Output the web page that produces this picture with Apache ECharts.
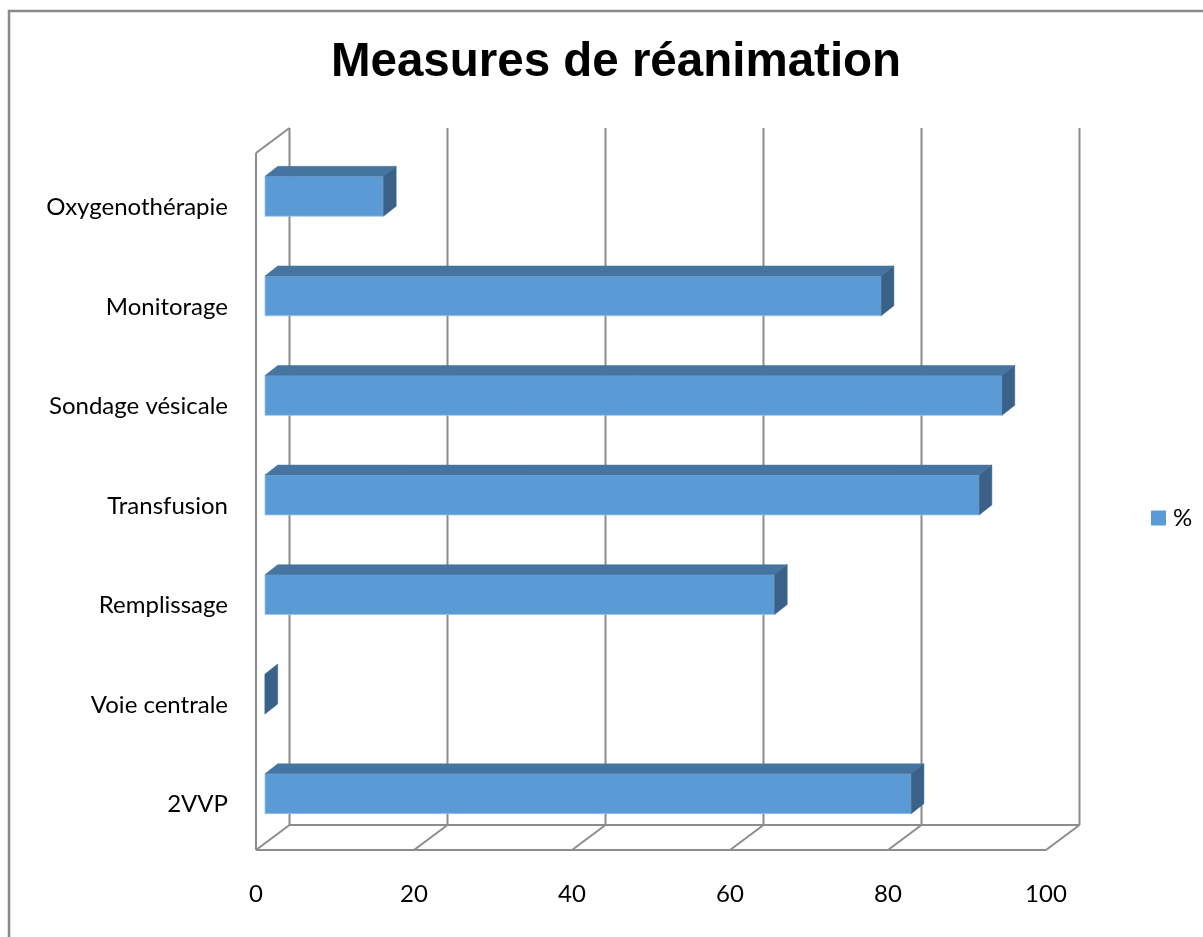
<!DOCTYPE html>
<html>
<head>
<meta charset="utf-8">
<script src="https://cdn.jsdelivr.net/npm/echarts@6/dist/echarts.min.js"></script>
<style>
html,body{margin:0;padding:0;background:#fff;}
#chart{width:1203px;height:937px;}
</style>
</head>
<body>
<div id="chart"></div>
<script>
// Data (bottom to top, as in the original series order)
const categories = ['2VVP', 'Voie centrale', 'Remplissage', 'Transfusion', 'Sondage vésicale', 'Monitorage', 'Oxygenothérapie'];
const values = [81.8, 0, 64.5, 90.4, 93.3, 78, 15];
const xTicks = [0, 20, 40, 60, 80, 100];
const seriesName = '%';
const titleText = 'Measures de réanimation';

// 3D look constants (pixels)
const DX = 33.5, DY = -25;      // depth of the back wall
const FX = 9, FY = -6.5;        // bar front face offset
const BX = 12.7, BY = -10;      // bar depth
const GRID_COLOR = '#8c8c8c';
const FRONT = '#5B9BD5', TOP = '#4674A0', SIDE = '#3A6289';
const FONT = 'Lato, "Open Sans", sans-serif';

const chart = echarts.init(document.getElementById('chart'), null, {renderer: 'canvas'});

function line(x1, y1, x2, y2) {
  return {type: 'line', shape: {x1, y1, x2, y2}, style: {stroke: GRID_COLOR, lineWidth: 2}, silent: true};
}

const option = {
  backgroundColor: '#ffffff',
  animation: false,
  title: {
    text: titleText,
    left: 611,
    top: 34,
    textAlign: 'center',
    textStyle: {fontFamily: '"Liberation Sans", Arial, sans-serif', fontWeight: 'bold', fontSize: 47.5, color: '#000'}
  },
  legend: {
    data: [seriesName],
    left: 1151,
    top: 506,
    padding: 0,
    icon: 'rect',
    itemWidth: 15,
    itemHeight: 15,
    itemGap: 10,
    textStyle: {fontFamily: FONT, fontSize: 24, color: '#000', padding: [0, 0, 0, 2]}
  },
  graphic: [{
    type: 'rect',
    shape: {x: 9, y: 11, width: 1220, height: 960},
    style: {fill: 'none', stroke: '#898989', lineWidth: 2.5},
    silent: true,
    z: -10
  }],
  grid: {left: 256, width: 790, top: 153, height: 697},
  xAxis: {
    type: 'value',
    min: 0,
    max: 100,
    interval: 20,
    axisLine: {show: false},
    axisTick: {show: false},
    splitLine: {show: false},
    axisLabel: {
      margin: 32,
      fontFamily: FONT,
      fontSize: 24,
      color: '#000',
      formatter: function (v) { return xTicks.indexOf(v) >= 0 ? String(v) : ''; }
    }
  },
  yAxis: {
    type: 'category',
    data: categories,
    axisLine: {show: false},
    axisTick: {show: false},
    splitLine: {show: false},
    axisLabel: {
      margin: 28,
      color: '#000',
      formatter: function (v) { return '{a|' + v + '}'; },
      rich: {a: {fontFamily: FONT, fontSize: 24, color: '#000', padding: [9, 0, 0, 0]}}
    }
  },
  series: [
    {
      type: 'custom',
      name: 'frame',
      silent: true,
      z: 1,
      data: xTicks.map(t => [t]),
      encode: {x: 0},
      renderItem: function (params, api) {
        const cs = params.coordSys;
        const top = cs.y, bottom = cs.y + cs.height;
        const t = api.value(0);
        const x = api.coord([t, 0])[0];
        const children = [
          line(x + DX, top + DY, x + DX, bottom + DY),
          line(x, bottom, x + DX, bottom + DY)
        ];
        if (params.dataIndex === 0) {
          const xEnd = api.coord([xTicks[xTicks.length - 1], 0])[0];
          children.push(line(x, top, x, bottom));
          children.push(line(x, top, x + DX, top + DY));
          children.push(line(x, bottom, xEnd, bottom));
          children.push(line(x + DX, bottom + DY, xEnd + DX, bottom + DY));
        }
        return {type: 'group', children};
      }
    },
    {
      type: 'custom',
      name: seriesName,
      z: 2,
      itemStyle: {color: FRONT},
      data: values.map((v, i) => [v, i]),
      encode: {x: 0, y: 1},
      renderItem: function (params, api) {
        const v = api.value(0), c = api.value(1);
        const s = api.coord([0, c]);
        const e = api.coord([v, c]);
        const bh = api.size([0, 1])[1] * 0.4;
        const x0 = s[0] + FX, x1 = e[0] + FX;
        const yc = s[1] + FY;
        const t = yc - bh / 2, b = yc + bh / 2;
        return {
          type: 'group',
          children: [
            {type: 'polygon', shape: {points: [[x0, t], [x1, t], [x1, b], [x0, b]]},
             style: {fill: FRONT, stroke: '#9cc2e8', lineWidth: 0.8}},
            {type: 'polygon', shape: {points: [[x0, t], [x0 + BX, t + BY], [x1 + BX, t + BY], [x1, t]]},
             style: {fill: TOP, stroke: TOP, lineWidth: 0.5}},
            {type: 'polygon', shape: {points: [[x1, t], [x1 + BX, t + BY], [x1 + BX, b + BY], [x1, b]]},
             style: {fill: SIDE, stroke: SIDE, lineWidth: 0.5}}
          ]
        };
      }
    }
  ]
};
chart.setOption(option);
</script>
</body>
</html>
